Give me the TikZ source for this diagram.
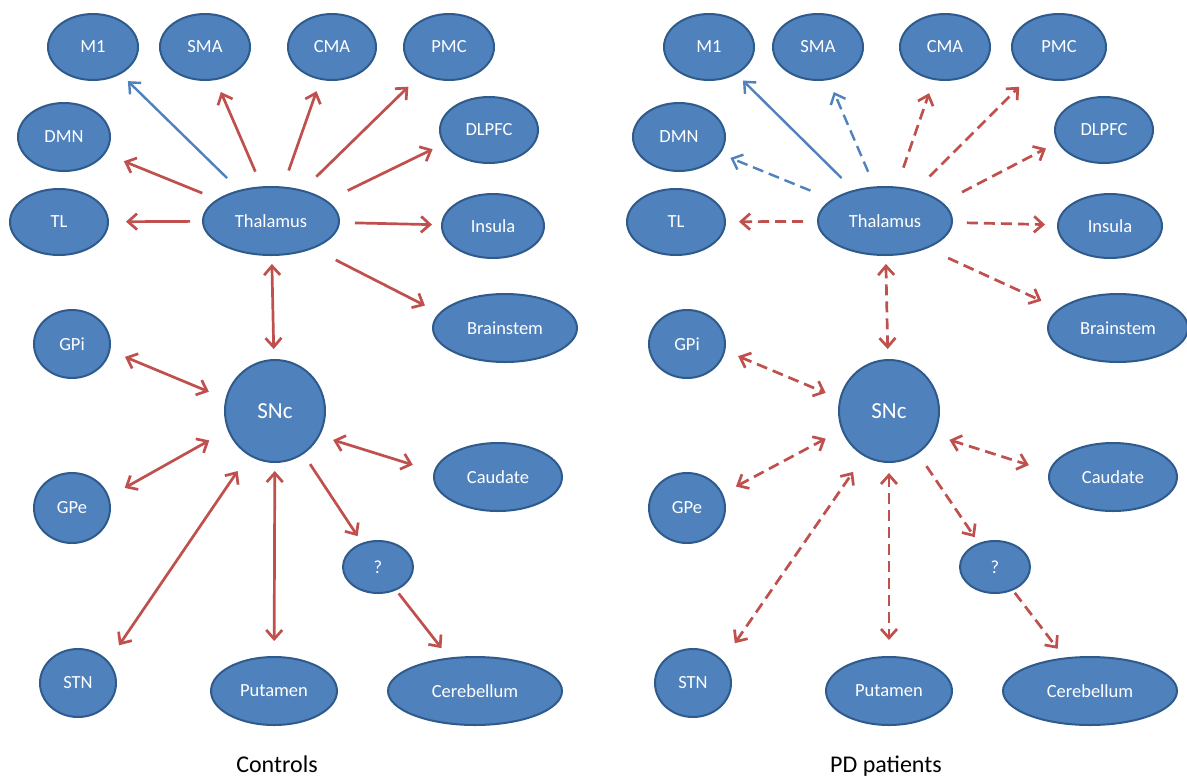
\documentclass[tikz,border=0pt]{standalone}
\usepackage{fontspec}
\setmainfont{Carlito}
\usetikzlibrary{arrows.meta,shapes.geometric}
\definecolor{nodefill}{HTML}{4F81BD}
\definecolor{nodeline}{HTML}{2F5A8C}
\definecolor{arrred}{HTML}{C0504D}
\definecolor{arrblue}{HTML}{4F81BD}
\begin{document}
\begin{tikzpicture}[x=1pt,y=-1pt,
  region/.style 2 args={ellipse, fill=nodefill, draw=nodeline, line width=2pt,
    text=white, font=\fontsize{18.5}{20}\selectfont, inner sep=0pt,
    minimum width=#1pt, minimum height=#2pt},
  bigregion/.style 2 args={region={#1}{#2}, font=\fontsize{23}{25}\selectfont},
  caption/.style={font=\fontsize{24}{26}\selectfont, text=black, anchor=base, inner sep=0pt},
  link/.style={draw=arrred, line width=2.7pt},
  bluelink/.style={draw=arrblue, line width=2.4pt},
  pdlink/.style={dash pattern=on 11pt off 6pt},
  onetip/.style={-{Straight Barb[length=9pt,width=16pt]}},
  twotip/.style={{Straight Barb[length=9pt,width=16pt]}-{Straight Barb[length=9pt,width=16pt]}},
  gap/.style 2 args={shorten <=#1pt, shorten >=#2pt}
]
\fill[white] (0,0) rectangle (1187,780);
\useasboundingbox (0,0) rectangle (1187,780);

% ---------------- Controls ----------------
\node[region={90}{66}] (m1) at (93,47) {M1};
\node[region={90}{66}] (sma) at (205,47) {SMA};
\node[region={88}{66}] (cma) at (332,47) {CMA};
\node[region={90}{66}] (pmc) at (449,47) {PMC};
\node[region={92}{68}] (dmn) at (64,137) {DMN};
\node[region={98}{66}] (dlpfc) at (489,130) {DLPFC};
\node[region={98}{66}] (tl) at (59,222) {TL};
\node[region={136}{68}] (thal) at (271,221) {Thalamus};
\node[region={102}{64}] (ins) at (493,226) {Insula};
\node[region={144}{68}] (brain) at (505,328) {Brainstem};
\node[region={76}{68}] (gpi) at (72,344) {GPi};
\node[bigregion={100}{102}] (snc) at (275,411) {SNc};
\node[region={128}{68}] (caud) at (498,477) {Caudate};
\node[region={76}{70}] (gpe) at (72,508) {GPe};
\node[region={70}{52}] (q) at (378,567) {?};
\node[region={76}{68}] (stn) at (78,683) {STN};
\node[region={126}{68}] (put) at (274,691) {Putamen};
\node[region={174}{68}] (cer) at (475,691) {Cerebellum};
\node[caption] (cap1) at (277,772) {Controls};

\draw[bluelink,onetip,gap={17}{10}] (thal) -- (m1);
\draw[link,onetip,gap={16}{13}] (thal.105) -- (sma.-72);
\draw[link,onetip,gap={17}{12}] (thal) -- (cma);
\draw[link,onetip,gap={19}{18}] (thal) -- (pmc);
\draw[link,onetip,gap={16}{20}] (thal) -- (dmn);
\draw[link,onetip,gap={12}{17}] (thal) -- (tl);
\draw[link,onetip,gap={23}{12}] (thal.20) -- (dlpfc.197);
\draw[link,onetip,gap={15}{9}] (thal) -- (ins);
\draw[link,onetip,gap={25}{16}] (thal.-33) -- (brain.167);
\draw[link,twotip,gap={8}{10}] (thal) -- (snc);
\draw[link,twotip,gap={16}{18}] (gpi.-10) -- (snc.166);
\draw[link,twotip,gap={18}{21}] (gpe.17) -- (snc.-158);
\draw[link,twotip,gap={19}{19}] (stn.36) -- (snc.-121);
\draw[link,twotip,gap={8}{15}] (snc) -- (put);
\draw[link,twotip,gap={14}{22}] (snc.-29) -- (caud.175);
\draw[link,onetip,gap={12}{8}] (snc) -- (q);
\draw[link,onetip,gap={4}{12}] (q) -- (cer);

% ---------------- PD patients ----------------
\node[region={90}{66}] (m1b) at (709,47) {M1};
\node[region={90}{66}] (smab) at (818,47) {SMA};
\node[region={90}{66}] (cmab) at (945,47) {CMA};
\node[region={94}{66}] (pmcb) at (1059,47) {PMC};
\node[region={92}{68}] (dmnb) at (679,137) {DMN};
\node[region={98}{66}] (dlpfcb) at (1104,130) {DLPFC};
\node[region={98}{66}] (tlb) at (676,222) {TL};
\node[region={134}{68}] (thalb) at (885,221) {Thalamus};
\node[region={104}{64}] (insb) at (1110,226) {Insula};
\node[region={140}{68}] (brainb) at (1118,328) {Brainstem};
\node[region={76}{68}] (gpib) at (687,344) {GPi};
\node[bigregion={100}{102}] (sncb) at (889,411) {SNc};
\node[region={128}{68}] (caudb) at (1113,477) {Caudate};
\node[region={76}{70}] (gpeb) at (687,508) {GPe};
\node[region={70}{52}] (qb) at (995,567) {?};
\node[region={76}{68}] (stnb) at (693,683) {STN};
\node[region={126}{68}] (putb) at (889,691) {Putamen};
\node[region={174}{68}] (cerb) at (1090,691) {Cerebellum};
\node[caption] (cap2) at (886,772) {PD patients};

\draw[bluelink,onetip,gap={17}{9}] (thalb) -- (m1b);
\draw[bluelink,pdlink,onetip,gap={16}{13}] (thalb.107) -- (smab.-72);
\draw[link,pdlink,onetip,gap={20}{14}] (thalb) -- (cmab);
\draw[link,pdlink,onetip,gap={19}{17}] (thalb) -- (pmcb);
\draw[bluelink,pdlink,onetip,gap={23}{11}] (thalb) -- (dmnb);
\draw[link,pdlink,onetip,gap={14}{13}] (thalb) -- (tlb);
\draw[link,pdlink,onetip,gap={22}{13}] (thalb.18) -- (dlpfcb.195);
\draw[link,pdlink,onetip,gap={14}{12}] (thalb) -- (insb);
\draw[link,pdlink,onetip,gap={23}{19}] (thalb.-33) -- (brainb.162);
\draw[link,pdlink,twotip,gap={8}{10}] (thalb) -- (sncb);
\draw[link,pdlink,twotip,gap={14}{15}] (gpib.-10) -- (sncb.166);
\draw[link,pdlink,twotip,gap={15}{18}] (gpeb.22) -- (sncb.-158);
\draw[link,pdlink,twotip,gap={21}{19}] (stnb.37) -- (sncb.-119);
\draw[link,pdlink,twotip,gap={10}{16}] (sncb) -- (putb);
\draw[link,pdlink,twotip,gap={16}{21}] (sncb.-28) -- (caudb.175);
\draw[link,pdlink,onetip,gap={15}{7}] (sncb) -- (qb);
\draw[link,pdlink,onetip,gap={3}{11}] (qb) -- (cerb);
\end{tikzpicture}
\end{document}
